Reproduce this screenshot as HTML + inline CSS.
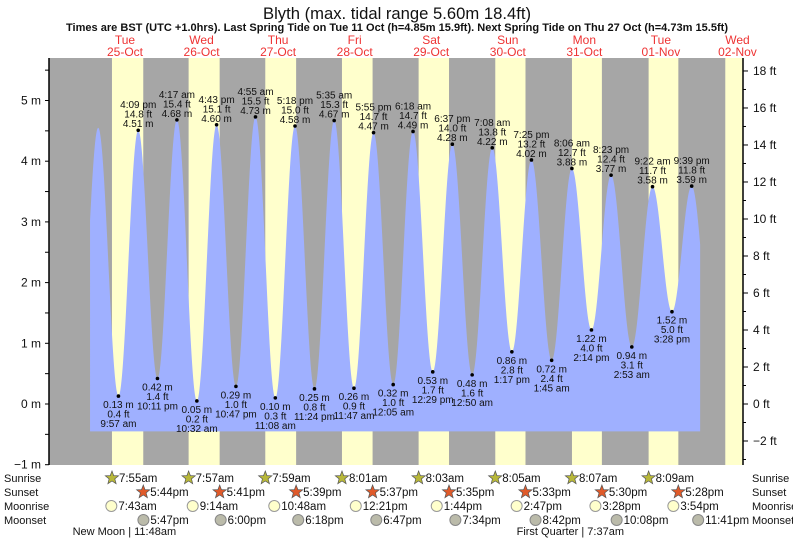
<!DOCTYPE html>
<html><head><meta charset="utf-8"><style>
html,body{margin:0;padding:0;background:#fff;}
svg{display:block;font-family:"Liberation Sans",sans-serif;}
</style></head><body>
<svg id="chart" width="793" height="539" viewBox="0 0 793 539" xmlns="http://www.w3.org/2000/svg">
<text x="397" y="19" font-size="17" text-anchor="middle" textLength="268" lengthAdjust="spacingAndGlyphs" fill="#111">Blyth (max. tidal range 5.60m 18.4ft)</text>
<text x="397" y="31" font-size="11" font-weight="bold" text-anchor="middle" textLength="662" lengthAdjust="spacingAndGlyphs" fill="#111">Times are BST (UTC +1.0hrs). Last Spring Tide on Tue 11 Oct (h=4.85m 15.9ft). Next Spring Tide on Thu 27 Oct (h=4.73m 15.5ft)</text>
<g id="g"></g>
</svg>
<script>
// ---- data ----
const dayNames = ["Tue","Wed","Thu","Fri","Sat","Sun","Mon","Tue","Wed"];
const dayDates = ["25-Oct","26-Oct","27-Oct","28-Oct","29-Oct","30-Oct","31-Oct","01-Nov","02-Nov"];
// tide extremes: hours since 25-Oct 00:00, height in m
const tideHours = [-2.6, 3.6, 9.95, 16.15, 22.18, 28.28, 34.53, 40.72, 46.78, 52.92, 59.13, 65.3, 71.4, 77.58, 83.78, 89.92, 96.08, 102.3, 108.48, 114.62, 120.83, 127.13, 133.28, 139.42, 145.75, 152.1, 158.23, 164.38, 170.88, 177.37, 183.47, 189.65, 196.0];
const tideHeights = [0.35, 4.55, 0.13, 4.51, 0.42, 4.68, 0.05, 4.60, 0.29, 4.73, 0.10, 4.58, 0.25, 4.67, 0.26, 4.47, 0.32, 4.49, 0.53, 4.28, 0.48, 4.22, 0.86, 4.02, 0.72, 3.88, 1.22, 3.77, 0.94, 3.58, 1.52, 3.59, 1.0];
const tideFeet = ["","","0.4","14.8","1.4","15.4","0.2","15.1","1.0","15.5","0.3","15.0","0.8","15.3","0.9","14.7","1.0","14.7","1.7","14.0","1.6","13.8","2.8","13.2","2.4","12.7","4.0","12.4","3.1","11.7","5.0","11.8",""];
const tideTimes = ["","","9:57 am","4:09 pm","10:11 pm","4:17 am","10:32 am","4:43 pm","10:47 pm","4:55 am","11:08 am","5:18 pm","11:24 pm","5:35 am","11:47 am","5:55 pm","12:05 am","6:18 am","12:29 pm","6:37 pm","12:50 am","7:08 am","1:17 pm","7:25 pm","1:45 am","8:06 am","2:14 pm","8:23 pm","2:53 am","9:22 am","3:28 pm","9:39 pm",""];
const sunriseH = [7.92,7.95,7.98,8.02,8.05,8.08,8.12,8.15,8.18];
const sunsetH = [17.73,17.68,17.65,17.62,17.58,17.55,17.5,17.47,17.43];
const sunriseLbl = ["7:55am","7:57am","7:59am","8:01am","8:03am","8:05am","8:07am","8:09am"];
const sunsetLbl = ["5:44pm","5:41pm","5:39pm","5:37pm","5:35pm","5:33pm","5:30pm","5:28pm"];
const moonriseH = [7.72,9.23,10.8,12.35,13.73,14.78,15.47,15.9];
const moonriseLbl = ["7:43am","9:14am","10:48am","12:21pm","1:44pm","2:47pm","3:28pm","3:54pm"];
const moonsetH = [17.78,18.0,18.3,18.78,19.57,20.7,22.13,23.68];
const moonsetLbl = ["5:47pm","6:00pm","6:18pm","6:47pm","7:34pm","8:42pm","10:08pm","11:41pm"];
const mTicks = [-1,0,1,2,3,4,5];
const ftTicks = [-2,0,2,4,6,8,10,12,14,16,18];

// ---- scales ----
const X0=86.7, PXH=3.19, Y0=404, PXM=60.7;
const PL=49, PR=743, PT=58, PB=465;
const xH=h=>X0+h*PXH;
const yM=m=>Y0-m*PXM;
const g=document.getElementById('g');
const NS='http://www.w3.org/2000/svg';
function el(t,a,txt){const e=document.createElementNS(NS,t);for(const k in a)e.setAttribute(k,a[k]);if(txt!==undefined)e.textContent=txt;g.appendChild(e);return e;}

let bg=el('rect',{x:PL,y:PT,width:PR-PL,height:PB-PT,fill:'#a6a6a6'});


for(let d=0;d<9;d++){
  const x1=Math.max(PL,xH(d*24+sunriseH[d])), x2=Math.min(PR,xH(d*24+sunsetH[d]));
  if(x2<=x1)continue;
  const r=el('rect',{x:x1,y:PT,width:x2-x1,height:PB-PT,fill:'#ffffcc'});
  
  
}
function tideAt(h){
  for(let i=0;i<tideHours.length-1;i++){
    if(h>=tideHours[i]&&h<=tideHours[i+1]){
      const f=(h-tideHours[i])/(tideHours[i+1]-tideHours[i]);
      return tideHeights[i]+(tideHeights[i+1]-tideHeights[i])*(1-Math.cos(Math.PI*f))/2;
    }
  }
  return 0;
}
const hS=1.05, hE=192.3, base=yM(-0.45);
let d='M'+xH(hS)+','+base;
for(let h=hS;h<=hE;h+=0.1)d+=' L'+xH(h).toFixed(2)+','+yM(tideAt(h)).toFixed(2);
d+=' L'+xH(hE)+','+yM(tideAt(hE))+' L'+xH(hE)+','+base+' Z';
const area=el('path',{d:d,fill:'#9fb0ff'});



for(let i=2;i<tideHours.length-1;i++){
  const x=xH(tideHours[i]), y=yM(tideHeights[i]);
  const high=tideHeights[i]>tideHeights[i-1];
  const dot=el('circle',{cx:x,cy:y,r:1.8,fill:'#000'});
  
  
  const lines=high?[tideTimes[i],tideFeet[i]+' ft',tideHeights[i].toFixed(2)+' m']:[tideHeights[i].toFixed(2)+' m',tideFeet[i]+' ft',tideTimes[i]];
  const startY=high?y-22:y+12;
  lines.forEach((s,k)=>{
    const t=el('text',{x:x,y:startY+k*9.5,'font-size':10,'text-anchor':'middle',fill:'#111'},s);
    
    
  });
}
el('line',{x1:PL,y1:PT,x2:PL,y2:PB,stroke:'#000','stroke-width':1.5});
el('line',{x1:PR,y1:PT,x2:PR,y2:PB,stroke:'#000','stroke-width':1.5});
for(let m=-1;m<=5.5;m+=0.5){
  el('line',{x1:PL-4,y1:yM(m),x2:PL,y2:yM(m),stroke:'#000'});
}
mTicks.forEach(m=>{
  const t=el('text',{x:PL-8,y:yM(m)+4,'font-size':12,'text-anchor':'end',fill:'#111'},(m<0?'\u2212'+(-m):m)+' m');
  
  
});
for(let f=-3;f<=19;f++){
  const y=yM(f*0.3048); if(y<PT||y>PB)continue;
  el('line',{x1:PR,y1:y,x2:PR+(f%2===0?5:3),y2:y,stroke:'#000'});
}
ftTicks.forEach(f=>{
  const t=el('text',{x:PR+10,y:yM(f*0.3048)+4,'font-size':12,fill:'#111'},(f<0?'\u2212'+(-f):f)+' ft');
  
  
});
for(let i=0;i<9;i++){
  const x=xH(i*24+12);
  const a=el('text',{x:x,y:44,'font-size':12,'text-anchor':'middle',fill:'#e33'},dayNames[i]);
  
  
  const b=el('text',{x:x,y:56,'font-size':12,'text-anchor':'middle',fill:'#e33'},dayDates[i]);
  
  
}
const rows=[['Sunrise',478],['Sunset',492],['Moonrise',506],['Moonset',520]];
rows.forEach(r=>{
  const a=el('text',{x:4,y:r[1]+4,'font-size':11,fill:'#111'},r[0]);
  
  
  const b=el('text',{x:752,y:r[1]+4,'font-size':11,fill:'#111'},r[0]);
  
  
});
function star(cx,cy,fill){
  let p='';for(let k=0;k<10;k++){const r=k%2?3:7;const a=-Math.PI/2+k*Math.PI/5;p+=(cx+r*Math.cos(a)).toFixed(1)+','+(cy+r*Math.sin(a)).toFixed(1)+' ';}
  return el('polygon',{points:p,fill:fill,stroke:'#555','stroke-width':0.7});
}
for(let i=0;i<8;i++){
  let x=xH(i*24+sunriseH[i]);
  let s=star(x,478,'#b8b83a');
  let t=el('text',{x:x+7,y:482,'font-size':11.5,fill:'#111'},sunriseLbl[i]);
  x=xH(i*24+sunsetH[i]);
  s=star(x,492,'#e05a2a');
  t=el('text',{x:x+7,y:496,'font-size':11.5,fill:'#111'},sunsetLbl[i]);
  x=xH(i*24+moonriseH[i]);
  s=el('circle',{cx:x,cy:506,r:5.5,fill:'#ffffcc',stroke:'#999'});
  t=el('text',{x:x+7,y:510,'font-size':11.5,fill:'#111'},moonriseLbl[i]);
  x=xH(i*24+moonsetH[i]);
  s=el('circle',{cx:x,cy:520,r:5.5,fill:'#bbbbaa',stroke:'#888'});
  t=el('text',{x:x+7,y:524,'font-size':11.5,fill:'#111'},moonsetLbl[i]);
}
let p1=el('text',{x:xH(11.8),y:535,'font-size':11,'text-anchor':'middle',fill:'#111'},'New Moon | 11:48am');


let p2=el('text',{x:xH(151.6),y:535,'font-size':11,'text-anchor':'middle',fill:'#111'},'First Quarter | 7:37am');


</script>
</body></html>
